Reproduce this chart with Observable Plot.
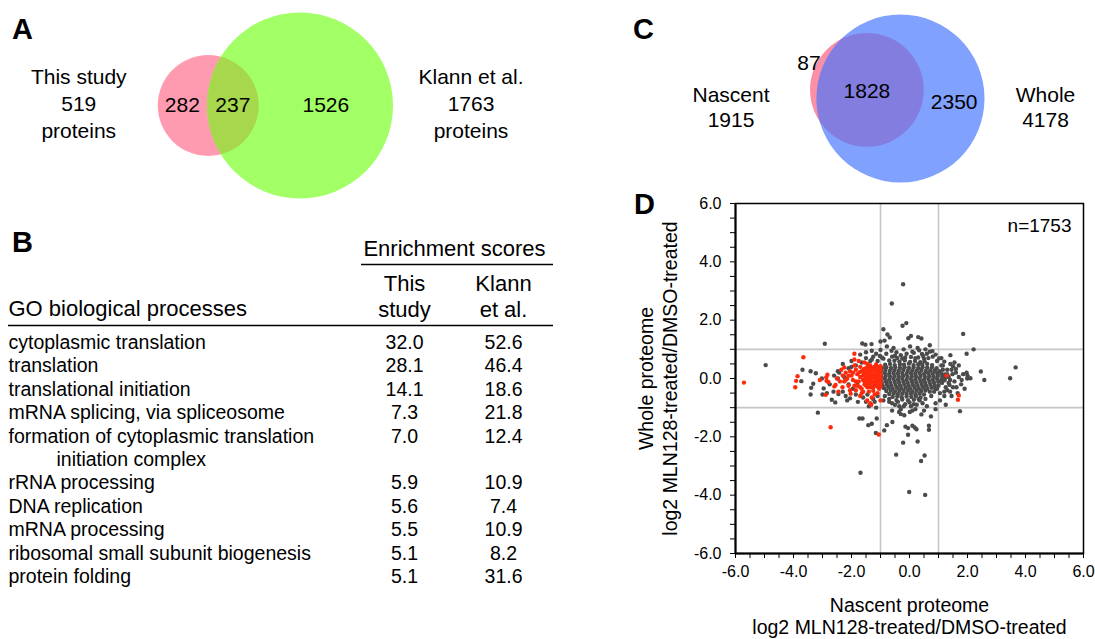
<!DOCTYPE html>
<html><head><meta charset="utf-8">
<script src="https://cdn.jsdelivr.net/npm/d3@7"></script>
<script src="https://cdn.jsdelivr.net/npm/@observablehq/plot@0.6"></script>
<style>
body{margin:0;background:#fff;font-family:"Liberation Sans",Arial,sans-serif;color:#000;}
#page{position:relative;width:1095px;height:639px;overflow:hidden;background:#fff;}
.panel{position:absolute;}
.letter{position:absolute;font-weight:bold;font-size:29px;line-height:1;}
</style></head><body><div id="page"></div>
<script>
// ---------------- DATA ----------------
// Panel A: Venn
const vennASets = ["This study", "Klann et al."];
const vennASizes = [519, 1763];
const vennAOverlap = 237;
// Panel C: Venn
const vennCSets = ["Nascent", "Whole"];
const vennCSizes = [1915, 4178];
const vennCOverlap = 1828;
// Panel B: GO table
const goTerms = [
  "cytoplasmic translation",
  "translation",
  "translational initiation",
  "mRNA splicing, via spliceosome",
  "formation of cytoplasmic translation initiation complex",
  "rRNA processing",
  "DNA replication",
  "mRNA processing",
  "ribosomal small subunit biogenesis",
  "protein folding"
];
const scoreThisStudy = [32.0, 28.1, 14.1, 7.3, 7.0, 5.9, 5.6, 5.5, 5.1, 5.1];
const scoreKlann = [52.6, 46.4, 18.6, 21.8, 12.4, 10.9, 7.4, 10.9, 8.2, 31.6];
const scoreColumns = ["This\nstudy", "Klann\net al."];
// Panel D: scatter (nascent log2 ratio, whole log2 ratio)
const scatterN = 1753;
const grayCore = [
[-0.52,0.61],[-0.35,0.58],[-0.16,0.62],[0.02,0.57],[0.19,0.60],[0.37,0.56],[0.52,0.59],
[-0.84,0.47],[-0.67,0.50],[-0.51,0.46],[-0.33,0.49],[-0.19,0.47],[-0.02,0.51],[0.14,0.46],[0.30,0.49],[0.44,0.47],[0.61,0.50],[0.78,0.46],
[-0.95,0.37],[-0.80,0.39],[-0.64,0.36],[-0.49,0.38],[-0.33,0.37],[-0.17,0.39],[-0.02,0.36],[0.14,0.38],[0.30,0.36],[0.45,0.39],[0.61,0.37],[0.77,0.38],[0.93,0.35],
[-0.98,0.27],[-0.83,0.29],[-0.68,0.26],[-0.52,0.28],[-0.37,0.27],[-0.21,0.29],[-0.06,0.26],[0.10,0.28],[0.25,0.27],[0.41,0.29],[0.56,0.26],[0.72,0.28],[0.87,0.27],[1.03,0.25],
[-1.00,0.17],[-0.85,0.19],[-0.70,0.16],[-0.55,0.18],[-0.40,0.17],[-0.25,0.19],[-0.10,0.16],[0.05,0.18],[0.20,0.17],[0.35,0.19],[0.50,0.16],[0.65,0.18],[0.80,0.17],[0.95,0.19],[1.10,0.16],[1.22,0.14],
[-0.97,0.07],[-0.82,0.09],[-0.67,0.06],[-0.52,0.08],[-0.37,0.07],[-0.22,0.09],[-0.07,0.06],[0.08,0.08],[0.23,0.07],[0.38,0.09],[0.53,0.06],[0.68,0.08],[0.83,0.07],[0.98,0.09],[1.13,0.06],[1.26,0.04],
[-1.00,-0.03],[-0.85,-0.01],[-0.70,-0.04],[-0.55,-0.02],[-0.40,-0.03],[-0.25,-0.01],[-0.10,-0.04],[0.05,-0.02],[0.20,-0.03],[0.35,-0.01],[0.50,-0.04],[0.65,-0.02],[0.80,-0.03],[0.95,-0.01],[1.10,-0.04],[1.21,-0.06],
[-0.96,-0.13],[-0.81,-0.11],[-0.66,-0.14],[-0.51,-0.12],[-0.36,-0.13],[-0.21,-0.11],[-0.06,-0.14],[0.09,-0.12],[0.24,-0.13],[0.39,-0.11],[0.54,-0.14],[0.69,-0.12],[0.84,-0.13],[0.99,-0.11],[1.12,-0.15],
[-0.93,-0.23],[-0.78,-0.21],[-0.63,-0.24],[-0.48,-0.22],[-0.33,-0.23],[-0.18,-0.21],[-0.03,-0.24],[0.12,-0.22],[0.27,-0.23],[0.42,-0.21],[0.57,-0.24],[0.72,-0.22],[0.87,-0.23],[1.00,-0.25],
[-0.88,-0.33],[-0.73,-0.31],[-0.58,-0.34],[-0.43,-0.32],[-0.28,-0.33],[-0.13,-0.31],[0.02,-0.34],[0.17,-0.32],[0.32,-0.33],[0.47,-0.31],[0.62,-0.34],[0.77,-0.32],[0.90,-0.35],
[-0.80,-0.43],[-0.65,-0.41],[-0.50,-0.44],[-0.35,-0.42],[-0.20,-0.43],[-0.05,-0.41],[0.10,-0.44],[0.25,-0.42],[0.40,-0.43],[0.55,-0.41],[0.70,-0.45],
[-0.70,-0.53],[-0.55,-0.51],[-0.40,-0.54],[-0.25,-0.52],[-0.10,-0.53],[0.05,-0.51],[0.20,-0.54],[0.35,-0.52],[0.50,-0.55],
[-0.58,-0.63],[-0.42,-0.61],[-0.27,-0.64],[-0.10,-0.62],[0.06,-0.63],[0.22,-0.61],[0.38,-0.65],
[-0.45,-0.74],[-0.25,-0.72],[-0.05,-0.75],[0.15,-0.73],[0.32,-0.71]
];
const grayRing = [
[-0.95,0.72],[-0.80,0.85],[-0.60,0.75],[-0.45,0.90],[-0.25,0.68],[-0.10,0.85],[0.05,0.74],[0.15,0.88],[0.30,0.72],[0.50,0.68],[0.65,0.70],[0.70,0.92],[0.90,0.82],[1.10,0.70],[1.20,0.58],[-1.15,0.85],[-1.35,0.60],[-0.55,1.05],[-0.20,1.00],[0.55,1.00],
[1.30,0.15],[1.35,-0.15],[1.25,-0.30],[1.45,0.30],[1.50,-0.30],[1.15,0.30],[1.20,-0.45],[1.40,-0.45],[1.60,0.20],[1.55,0.55],[1.70,0.45],[1.80,-0.05],[1.45,-0.60],[1.05,-0.50],[1.10,0.45],
[-0.85,-0.60],[-0.70,-0.70],[-0.60,-0.85],[-0.40,-0.80],[-0.20,-0.95],[0.00,-0.82],[0.15,-0.88],[0.35,-0.75],[0.55,-0.70],[0.60,-0.95],[0.75,-0.60],[0.85,-0.45],[0.95,-0.35],[-0.30,-1.05],[0.10,-1.10],[0.50,-1.10],
[-1.20,-0.80],[-1.50,-0.80],[-1.80,-0.20],[-2.00,0.40],[-2.30,0.50],[-1.50,0.70],[-1.30,0.65]
];
const grayOutliers = [
[-0.22,3.23],[-0.61,2.57],[-0.11,1.90],[-0.24,1.81],[1.85,1.53],[-0.90,1.69],[-0.76,1.51],[-0.68,1.41],[-0.86,1.30],[-1.00,1.27],[-1.63,1.20],[-1.52,1.16],[-1.31,1.18],[0.05,1.46],[-0.04,1.38],[0.30,1.42],[0.41,1.37],[0.02,1.10],[0.10,0.92],[0.28,1.05],[0.33,0.97],[0.43,0.84],[0.47,0.77],[0.70,1.14],[0.79,0.94],[1.02,0.69],[1.41,0.80],[1.97,0.85],[2.21,1.00],[-0.78,1.10],[-0.62,0.95],[-1.00,0.98],[-1.02,0.77],[-1.30,0.95],[-1.50,0.90],[-1.70,0.82],[-1.25,0.75],[-0.30,0.80],[-0.42,0.70],[-0.15,0.72],[0.20,0.70],[0.60,0.85],[0.80,0.75],[0.95,0.60],[1.15,0.45],[1.30,0.30],
[-2.92,1.19],[-4.96,0.46],[-3.69,0.30],[-3.73,-0.09],[-3.41,0.25],[-3.23,0.18],[-3.32,-0.18],[-3.39,-0.32],[-3.41,-0.55],[-3.02,0.00],[-2.96,-0.34],[-3.00,-0.55],[-2.68,-0.73],[-2.56,-0.82],[-3.16,-1.17],[-2.47,0.25],[-2.42,0.20],[-2.47,0.00],[-2.45,-0.53],[-2.30,-0.45],[-2.20,-0.60],[-2.15,-0.75],[-2.05,-0.68],[-1.78,-0.80],[-2.60,0.10],[-2.75,-0.20],[-2.62,-0.45],[-2.85,-0.50],[-2.25,0.05],[-2.10,0.35],[-1.85,0.45],[-2.00,0.60],[-1.65,0.55],[-1.10,0.60],[-0.90,0.68],[-0.70,0.62],[-0.50,0.78],[-1.95,-0.35],[-2.10,-0.20],[-1.85,-0.55],[-1.60,-0.65],[-1.45,-0.55],[-1.25,-0.70],[-1.10,-0.60],[-0.90,-0.75],[-0.70,-0.80],[-1.40,-0.95],[-1.15,-1.00],[-0.50,-0.90],[-0.35,-0.95],[-0.15,-0.88],[0.05,-0.95],[0.25,-0.90],[0.45,-0.85],[0.90,-0.85],[1.05,-0.75],[1.20,-0.60],[1.30,-0.40],[1.38,-0.22],
[-1.73,-1.37],[-1.62,-1.37],[-1.42,-1.60],[-1.30,-1.55],[-1.13,-1.37],[-1.16,-1.87],[-0.87,-1.78],[-0.78,-1.60],[-0.59,-1.49],[-0.36,-1.15],[-0.30,-1.22],[-0.18,-1.26],[0.01,-1.15],[0.41,-1.23],[0.74,-1.30],[-0.60,-1.10],[0.20,-1.05],[0.90,-1.05],[1.25,-0.90],
[-0.14,-1.65],[-0.05,-1.70],[0.10,-1.62],[0.18,-1.68],[0.24,-1.74],[-0.05,-1.93],[0.67,-1.62],[0.67,-1.76],[-0.22,-2.20],[0.28,-2.16],[-0.46,-2.61],[0.52,-2.64],[0.40,-2.83],[-1.69,-3.23],[-0.01,-3.89],[0.54,-3.99],[1.74,-1.12],
[3.66,0.38],[2.46,0.24],[2.58,-0.05],[3.47,0.01],[2.10,0.01],[1.97,0.20],[1.41,0.50],[1.60,0.33],[1.50,0.42],[1.85,0.15],[1.70,0.05],[1.55,-0.10],[1.78,-0.20],[1.62,-0.30],[1.48,0.15],[1.66,-0.50],[1.99,0.00],[1.90,-0.35],[2.00,0.10],[1.35,0.05],[1.40,-0.05]
];
const redPoints = [
[-5.71,-0.14],[-3.66,0.73],[-3.86,0.08],[-3.91,-0.08],[-3.94,-0.30],[-3.09,-0.05],[-2.89,-0.56],[-2.83,0.13],[-2.87,0.04],[-2.86,-0.08],[-2.80,-0.12],[-2.59,-0.27],[-2.55,-0.22],[-2.31,-0.30],[-2.72,-1.67],[-1.90,0.85],[-2.03,-0.52],[-1.46,-0.75],[-1.06,-1.92],[-1.32,-0.90],[1.28,0.10],[1.70,-0.58],[1.67,-0.73],
[-2.30,0.10],[-2.20,0.20],[-2.15,0.00],[-2.25,-0.10],[-2.05,0.25],[-2.00,0.10],[-1.95,-0.05],[-1.90,0.45],[-1.85,0.30],[-1.80,0.15],[-1.75,-0.10],[-1.80,-0.25],[-1.70,0.40],[-1.65,0.25],[-1.60,0.10],[-1.60,-0.05],[-1.55,-0.20],[-1.65,-0.35],[-1.50,0.35],[-1.45,0.20],[-1.45,0.05],[-1.40,-0.10],[-1.45,-0.30],[-1.40,-0.45],[-1.35,0.45],[-1.30,0.30],[-1.30,0.15],[-1.30,0.00],[-1.30,-0.15],[-1.25,-0.30],[-1.20,0.40],[-1.20,0.25],[-1.15,0.10],[-1.15,-0.05],[-1.15,-0.20],[-1.10,0.35],[-1.05,0.20],[-1.05,0.05],[-1.05,-0.10],[-1.05,-0.35],[-1.10,-0.50],[-1.20,-0.55],[-1.00,0.30],[-1.00,0.15],[-1.00,-0.05],[-1.00,-0.20],[-1.55,0.55],[-2.40,-0.10],[-2.50,0.00],[-2.35,0.30],[-1.65,-0.50],[-1.85,-0.40],[-2.10,-0.25],[-1.75,0.60],[-1.30,-0.65],[-1.00,-0.75],
[-1.58,0.32],[-1.46,0.38],[-1.34,0.36],[-1.22,0.38],[-1.10,0.40],[-1.00,0.42],
[-1.57,0.22],[-1.44,0.27],[-1.36,0.24],[-1.22,0.28],[-1.12,0.24],[-1.02,0.26],
[-1.55,0.14],[-1.46,0.12],[-1.38,0.10],[-1.24,0.13],[-1.10,0.16],[-1.01,0.10],
[-1.52,0.00],[-1.48,-0.02],[-1.36,0.03],[-1.22,0.05],[-1.10,-0.01],[-1.00,0.02],
[-1.54,-0.12],[-1.47,-0.16],[-1.34,-0.08],[-1.21,-0.10],[-1.08,-0.13],[-1.00,-0.12],
[-1.50,-0.24],[-1.38,-0.22],[-1.34,-0.30],[-1.20,-0.24],[-1.10,-0.28],[-1.01,-0.28],
[-1.70,0.05],[-1.72,0.22],[-1.85,-0.10],[-1.95,0.20],[-2.10,0.10],[-2.20,-0.05],[-1.90,-0.25],[-1.60,-0.45],[-1.45,0.50],[-1.15,0.48],[-1.25,-0.42],[-1.70,-0.30],[-2.25,0.38],[-2.05,-0.40],[-1.35,-0.85],[-1.70,-0.60],[-1.90,0.65],[-2.45,-0.45]
];
const axisTicks = [-6, -4, -2, 0, 2, 4, 6];
const minorTicks = [-5.5,-5,-4.5,-3.5,-3,-2.5,-1.5,-1,-0.5,0.5,1,1.5,2.5,3,3.5,4.5,5,5.5];
const thresholds = [-1, 1];

// ---------------- HELPERS ----------------
const FONT = '"Liberation Sans", Arial, sans-serif';
const page = document.getElementById("page");
function place(node, left, top, w, h) {
  const div = document.createElement("div");
  div.className = "panel";
  div.style.left = left + "px"; div.style.top = top + "px";
  div.style.width = w + "px"; div.style.height = h + "px";
  div.appendChild(node); page.appendChild(div);
}
function letter(t, left, top) {
  const d = document.createElement("div");
  d.className = "letter"; d.textContent = t;
  d.style.left = left + "px"; d.style.top = top + "px";
  page.appendChild(d);
}
function lensArea(r1, r2, d) {
  if (d >= r1 + r2) return 0;
  if (d <= Math.abs(r1 - r2)) return Math.PI * Math.min(r1, r2) ** 2;
  const a = r1 * r1 * Math.acos((d * d + r1 * r1 - r2 * r2) / (2 * d * r1));
  const b = r2 * r2 * Math.acos((d * d + r2 * r2 - r1 * r1) / (2 * d * r2));
  const c = 0.5 * Math.sqrt((-d + r1 + r2) * (d + r1 - r2) * (d - r1 + r2) * (d + r1 + r2));
  return a + b - c;
}
function centerDistance(r1, r2, target) {
  let lo = Math.abs(r1 - r2), hi = r1 + r2;
  for (let i = 0; i < 60; i++) { const m = (lo + hi) / 2; if (lensArea(r1, r2, m) > target) lo = m; else hi = m; }
  return (lo + hi) / 2;
}
// area-proportional two-set layout: sizes = [small, big]
function vennLayout(sizes, overlap, R, center, dir) {
  const [nS, nB] = sizes;
  const rS = R * Math.sqrt(nS / nB);
  const d = centerDistance(rS, R, Math.PI * rS * rS * overlap / nS);
  const len = Math.hypot(dir[0], dir[1]);
  return {
    big: {n: nB, x: center[0], y: center[1], r: R},
    small: {n: nS, x: center[0] + d * dir[0] / len, y: center[1] + d * dir[1] / len, r: rS}
  };
}
function clipOverlap(svg, id) {
  const gs = svg.querySelectorAll('g[aria-label="dot"]');
  const ns = "http://www.w3.org/2000/svg";
  const defs = document.createElementNS(ns, "defs");
  const cp = document.createElementNS(ns, "clipPath");
  cp.setAttribute("id", id);
  cp.appendChild(gs[1].querySelector("circle").cloneNode());
  defs.appendChild(cp);
  svg.insertBefore(defs, svg.firstChild);
  gs[2].setAttribute("clip-path", `url(#${id})`);
}

// ---------------- PANEL A ----------------
{
  const L = vennLayout(vennASizes, vennAOverlap, 93, [299.5, 105], [-1, 0]);
  const s = L.small, b = L.big;
  const regions = [
    {t: String(vennASizes[0] - vennAOverlap), x: ((s.x - s.r) + (b.x - b.r)) / 2, y: s.y},
    {t: String(vennAOverlap), x: ((b.x - b.r) + (s.x + s.r)) / 2, y: s.y},
    {t: String(vennASizes[1] - vennAOverlap), x: ((s.x + s.r) + (b.x + b.r)) / 2, y: b.y}
  ];
  const sides = [
    {t: `${vennASets[0]}\n${vennASizes[0]}\nproteins`, x: s.x - s.r - 79, y: s.y - 3},
    {t: `${vennASets[1]}\n${vennASizes[1]}\nproteins`, x: b.x + b.r + 78, y: b.y - 3}
  ];
  const svg = Plot.plot({
    width: 560, height: 215, margin: 0,
    style: {fontFamily: FONT, background: "transparent"},
    x: {domain: [0, 560], range: [0, 560], axis: null},
    y: {domain: [0, 215], range: [0, 215], axis: null},
    r: {type: "sqrt", domain: [0, vennASizes[1]], range: [0, 93]},
    marks: [
      Plot.dot([s], {x: "x", y: "y", r: "n", fill: "#ff9bb1"}),
      Plot.dot([b], {x: "x", y: "y", r: "n", fill: "#a3ff66"}),
      Plot.dot([s], {x: "x", y: "y", r: "n", fill: "#a6d74c"}),
      Plot.text(regions, {x: "x", y: "y", text: "t", fontSize: 21, fill: "black"}),
      Plot.text(sides, {x: "x", y: "y", text: "t", fontSize: 21, lineHeight: 1.27, fill: "black"})
    ]
  });
  clipOverlap(svg, "clipA");
  place(svg, 0, 0, 560, 215);
}

// ---------------- PANEL C ----------------
{
  const L = vennLayout(vennCSizes, vennCOverlap, 84, [900, 98], [-35, -9]);
  const s = L.small, b = L.big;
  const regions = [
    {t: String(vennCSizes[0] - vennCOverlap), x: s.x - s.r - 1, y: s.y - 27},
    {t: String(vennCOverlap), x: s.x, y: s.y + 1},
    {t: String(vennCSizes[1] - vennCOverlap), x: ((s.x + s.r) + (b.x + b.r)) / 2, y: b.y + 4}
  ];
  const sides = [
    {t: `${vennCSets[0]}\n${vennCSizes[0]}`, x: s.x - s.r - 79, y: b.y + 8},
    {t: `${vennCSets[1]}\n${vennCSizes[1]}`, x: b.x + b.r + 61, y: b.y + 8}
  ];
  const svg = Plot.plot({
    width: 535, height: 190, margin: 0,
    style: {fontFamily: FONT, background: "transparent"},
    x: {domain: [560, 1095], range: [0, 535], axis: null},
    y: {domain: [0, 190], range: [0, 190], axis: null},
    r: {type: "sqrt", domain: [0, vennCSizes[1]], range: [0, 84]},
    marks: [
      Plot.dot([s], {x: "x", y: "y", r: "n", fill: "#fc8fa6"}),
      Plot.dot([b], {x: "x", y: "y", r: "n", fill: "#81a1ff"}),
      Plot.dot([s], {x: "x", y: "y", r: "n", fill: "#837ddf"}),
      Plot.text(regions, {x: "x", y: "y", text: "t", fontSize: 21, fill: "black"}),
      Plot.text(sides, {x: "x", y: "y", text: "t", fontSize: 21, lineHeight: 1.2, fill: "black"})
    ]
  });
  clipOverlap(svg, "clipC");
  place(svg, 560, 0, 535, 190);
}

// ---------------- PANEL B ----------------
{
  function wrap(t, max) {
    const words = t.split(" "); const out = []; let cur = "";
    for (const w of words) {
      if (cur && (cur + " " + w).length > max) { out.push(cur); cur = w; }
      else cur = cur ? cur + " " + w : w;
    }
    out.push(cur); return out;
  }
  const rowTop = 342, rowStep = 23.45;
  const lines = [], values = [];
  let line = 0;
  goTerms.forEach((t, i) => {
    const parts = wrap(t, 36);
    parts.forEach((p, k) => lines.push({t: p, x: k ? 56 : 8, y: rowTop + (line + k) * rowStep}));
    values.push({t: scoreThisStudy[i].toFixed(1), x: 404, y: rowTop + line * rowStep});
    values.push({t: scoreKlann[i].toFixed(1), x: 503, y: rowTop + line * rowStep});
    line += parts.length;
  });
  const headers = [
    {t: scoreColumns[0], x: 404, y: 295},
    {t: scoreColumns[1], x: 503, y: 295}
  ];
  const svg = Plot.plot({
    width: 560, height: 380, margin: 0,
    style: {fontFamily: FONT, background: "transparent"},
    x: {domain: [0, 560], range: [0, 560], axis: null},
    y: {domain: [220, 600], range: [0, 380], axis: null},
    marks: [
      Plot.text(["Enrichment scores"], {x: 454, y: 248, text: d => d, fontSize: 22, fill: "black"}),
      Plot.ruleY([264], {x1: 361, x2: 553, stroke: "black", strokeWidth: 1.5}),
      Plot.text(headers, {x: "x", y: "y", text: "t", fontSize: 22, lineHeight: 1.18, fill: "black"}),
      Plot.text(["GO biological processes"], {x: 8, y: 308, text: d => d, textAnchor: "start", fontSize: 22, fill: "black"}),
      Plot.ruleY([325], {x1: 8, x2: 553, stroke: "black", strokeWidth: 1.5}),
      Plot.text(lines, {x: "x", y: "y", text: "t", textAnchor: "start", fontSize: 19.5, fill: "black"}),
      Plot.text(values, {x: "x", y: "y", text: "t", fontSize: 19.5, fill: "black"})
    ]
  });
  place(svg, 0, 220, 560, 380);
}

// ---------------- PANEL D ----------------
{
  const fmt = d => d.toFixed(1);
  const pt = {x: d => d[0], y: d => d[1], r: 2.2};
  const svg = Plot.plot({
    width: 465, height: 449,
    marginLeft: 105, marginRight: 12, marginTop: 13, marginBottom: 86,
    style: {fontFamily: FONT, fontSize: "16px", background: "transparent", color: "black"},
    x: {domain: [-6, 6]},
    y: {domain: [-6, 6]},
    marks: [
      Plot.ruleX(thresholds, {stroke: "#c6c6c6", strokeWidth: 1.6}),
      Plot.ruleY(thresholds, {stroke: "#c6c6c6", strokeWidth: 1.6}),
      Plot.dot(grayCore, {...pt, fill: "#4b4b4b"}),
      Plot.dot(grayRing, {...pt, fill: "#4b4b4b"}),
      Plot.dot(grayOutliers, {...pt, fill: "#4b4b4b"}),
      Plot.dot(redPoints, {...pt, fill: "#ff2a0c"}),
      Plot.frame({stroke: "black", strokeWidth: 1.5}),
      Plot.ruleX([-6], {stroke: "black", strokeWidth: 2}),
      Plot.ruleY([-6], {stroke: "black", strokeWidth: 2}),
      Plot.axisX({ticks: axisTicks, tickFormat: fmt, tickSize: 5, tickPadding: 7, fontSize: 16, label: null}),
      Plot.axisX({ticks: minorTicks, tickFormat: () => "", tickSize: 5, label: null}),
      Plot.axisY({ticks: axisTicks, tickFormat: fmt, tickSize: 5, tickPadding: 9, fontSize: 16, label: null}),
      Plot.axisY({ticks: minorTicks, tickFormat: () => "", tickSize: 5, label: null}),
      Plot.text([`n=${scatterN}`], {frameAnchor: "top-right", dx: -12, dy: 22, text: d => d, textAnchor: "end", lineAnchor: "middle", fontSize: 19, fill: "black"}),
      Plot.text(["Nascent proteome\nlog2 MLN128-treated/DMSO-treated"], {frameAnchor: "bottom", dy: 62.5, text: d => d, textAnchor: "middle", lineAnchor: "middle", lineHeight: 1.15, fontSize: 19.5, fill: "black"}),
      Plot.text(["Whole proteome\nlog2 MLN128-treated/DMSO-treated"], {frameAnchor: "left", dx: -78, rotate: -90, text: d => d, textAnchor: "middle", lineAnchor: "middle", lineHeight: 1.23, fontSize: 19.5, fill: "black"})
    ]
  });
  place(svg, 630, 190, 465, 449);
}

letter("A", 12, 15);
letter("B", 12, 228);
letter("C", 633, 15);
letter("D", 634, 190);
</script>
</body></html>
